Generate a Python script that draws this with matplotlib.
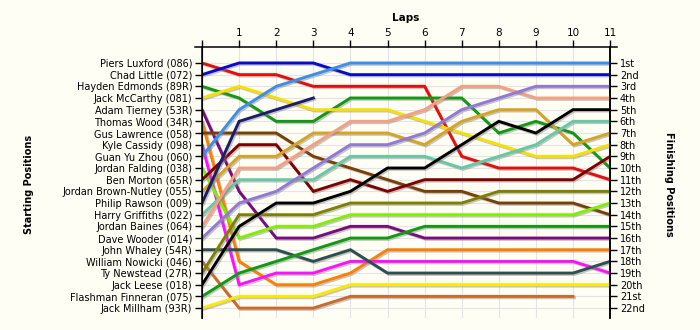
import matplotlib
matplotlib.use("Agg")
import matplotlib.pyplot as plt
import matplotlib.patheffects as pe
import numpy as np

drivers = ["Piers Luxford (086)", "Chad Little (072)", "Hayden Edmonds (89R)",
           "Jack McCarthy (081)", "Adam Tierney (53R)", "Thomas Wood (34R)",
           "Gus Lawrence (058)", "Kyle Cassidy (098)", "Guan Yu Zhou (060)",
           "Jordan Falding (038)", "Ben Morton (65R)", "Jordan Brown-Nutley (055)",
           "Philip Rawson (009)", "Harry Griffiths (022)", "Jordan Baines (064)",
           "Dave Wooder (014)", "John Whaley (54R)", "William Nowicki (046)",
           "Ty Newstead (27R)", "Jack Leese (018)", "Flashman Finneran (075)",
           "Jack Millham (93R)"]

laps = list(range(12))

# position at the end of each lap (lap 0 = grid), None once retired
positions = [
    [1, 2, 2, 3, 3, 3, 3, 9, 10, 10, 10, 11],
    [2, 1, 1, 1, 2, 2, 2, 2, 2, 2, 2, 2],
    [3, 4, 6, 6, 4, 4, 4, 4, 7, 6, 7, 10],
    [4, 3, 4, 5, 5, 5, 6, 7, 8, 9, 9, 8],
    [5, 12, 16, 16, 15, 15, 16, 16, 16, 16, 16, 16],
    [6, 18, 20, 20, 19, 17, 17, 17, 17, 17, 17, 17],
    [7, 7, 7, 9, 10, 11, 12, 12, 13, 13, 13, 14],
    [8, 20, 19, 19, 18, 18, 18, 18, 18, 18, 18, 19],
    [9, 5, 3, 2, 1, 1, 1, 1, 1, 1, 1, 1],
    [10, 16, 15, 15, 14, 14, 14, 14, 14, 14, 14, 13],
    [11, 8, 8, 12, 11, 12, 11, 11, 11, 11, 11, 9],
    [12, 9, 9, 7, 7, 7, 8, 6, 5, 5, 8, 7],
    [13, 6, 5, 4, None, None, None, None, None, None, None, None],
    [14, 11, 11, 11, 9, 9, 9, 10, 9, 8, 6, 6],
    [15, 10, 10, 8, 6, 6, 5, 3, 3, 4, 4, 4],
    [16, 13, 12, 10, 8, 8, 7, 5, 4, 3, 3, 3],
    [17, 17, 17, 18, 17, 19, 19, 19, 19, 19, 19, 18],
    [18, 22, 22, 22, 21, 21, 21, 21, 21, 21, 21, None],
    [19, 14, 14, 14, 13, 13, 13, 13, 12, 12, 12, 12],
    [20, 15, 13, 13, 12, 10, 10, 8, 6, 7, 5, 5],
    [21, 19, 18, 17, 16, 16, 15, 15, 15, 15, 15, 15],
    [22, 21, 21, 21, 20, 20, 20, 20, 20, 20, 20, 20],
]

colors = ["#e60d0d", "#0a0acc", "#119911", "#f7e000", "#7a0a80", "#ff8000",
          "#7a3f05", "#ff10ff", "#3b8fe8", "#80f000", "#800000", "#d9a322",
          "#1c1c6e", "#66c8a6", "#f5a080", "#9378d8", "#2f4f4f", "#cd6a2a",
          "#808000", "#000000", "#119911", "#ffe800"]

ordinals = ["1st", "2nd", "3rd", "4th", "5th", "6th", "7th", "8th", "9th", "10th",
            "11th", "12th", "13th", "14th", "15th", "16th", "17th", "18th", "19th",
            "20th", "21st", "22nd"]

bg = "#fffef5"
fig = plt.figure(figsize=(7, 3.3), dpi=100, facecolor=bg)
ax = fig.add_axes([0.2886, 0.0364, 0.583, 0.8212], facecolor=bg)

shadow = [pe.SimpleLineShadow(offset=(1, -1), shadow_color="gray", alpha=0.45),
          pe.Normal()]

for pos, c in zip(positions, colors):
    y = np.array([np.nan if p is None else p for p in pos], dtype=float)
    ax.plot(laps, y, color=c, lw=2.1, solid_joinstyle="miter",
            path_effects=shadow, zorder=3)

ax.set_xlim(0, 11)
ax.set_ylim(22.85, -0.37)

ax.set_xticks(laps)
ax.set_xticklabels([""] + [str(i) for i in laps[1:]])
ax.xaxis.tick_top()
ax.set_yticks(range(1, 23))
ax.set_yticklabels(drivers)
ax.tick_params(axis="both", direction="out", length=5, width=1, labelsize=7,
               pad=2)
ax.tick_params(axis="x", pad=1.5, labelsize=7.5)
ax.grid(True, color="#e4e4e4", lw=0.8, zorder=0)

for s in ["left", "right", "top"]:
    ax.spines[s].set_linewidth(1.1)
ax.spines["bottom"].set_visible(False)
ax.spines["top"].set_visible(False)
# top axis line runs a little past both side spines
ax.plot([-0.18, 11.18], [-0.37, -0.37], color="black", lw=1.1,
        clip_on=False, zorder=5)

ax2 = ax.twinx()
ax2.set_ylim(ax.get_ylim())
ax2.set_yticks(range(1, 23))
ax2.set_yticklabels(ordinals)
ax2.tick_params(axis="y", direction="out", length=5, width=1, labelsize=7, pad=2)
ax2.spines["bottom"].set_visible(False)
ax2.spines["top"].set_visible(False)
ax2.spines["right"].set_linewidth(1.1)

fig.text(0.579, 0.945, "Laps", ha="center", va="center", fontsize=7.5,
         fontweight="bold")
fig.text(0.042, 0.44, "Starting Positions", ha="center", va="center",
         rotation=90, fontsize=7, fontweight="bold")
fig.text(0.955, 0.44, "Finishing Positions", ha="center", va="center",
         rotation=270, fontsize=7, fontweight="bold")

fig.savefig("out.png", dpi=100, facecolor=bg)
